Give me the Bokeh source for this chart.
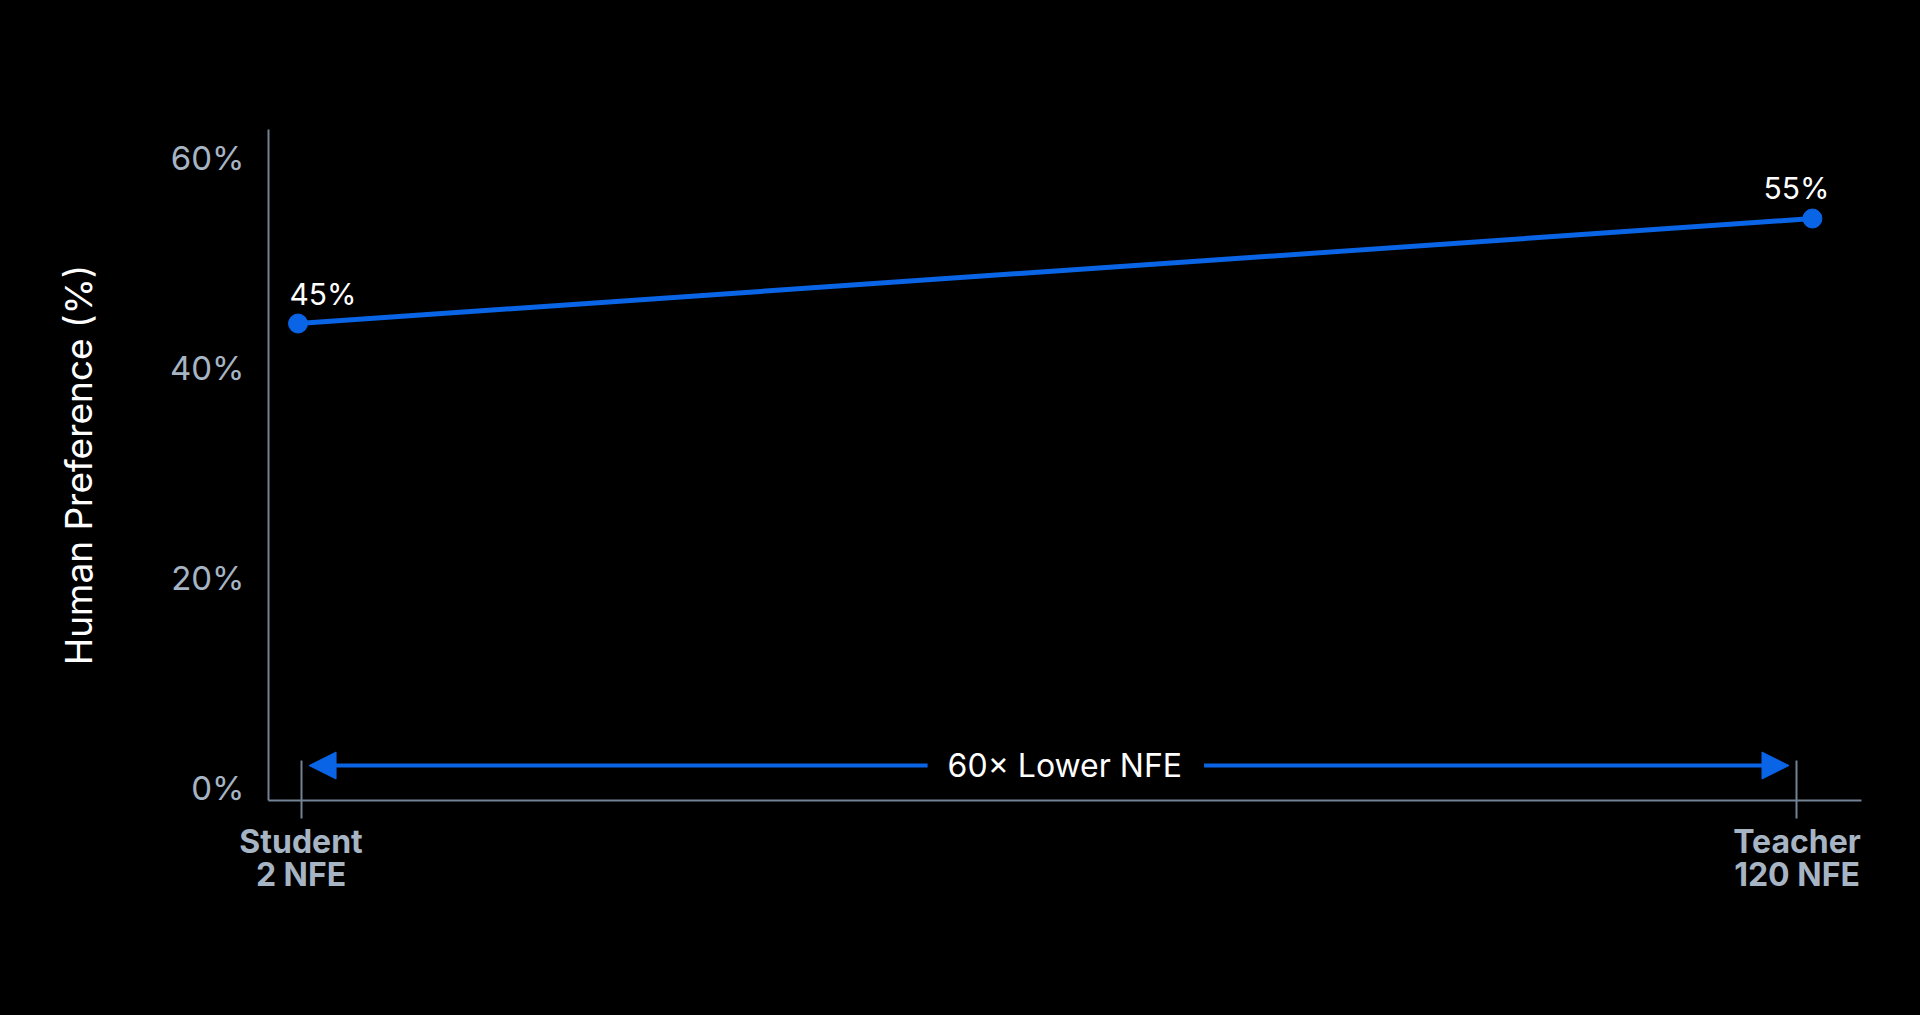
from bokeh.plotting import figure
from bokeh.models import (Range1d, FixedTicker, Arrow, NormalHead, Label, LinearAxis,
                          ColumnDataSource, GlobalInlineStyleSheet)
from bokeh.core.properties import value
from bokeh.embed import file_html
from bokeh.resources import INLINE

# ---- data ----
models = ["Student", "Teacher"]
nfe_labels = ["Student\n2 NFE", "Teacher\n120 NFE"]
preference = [45, 55]
value_labels = ["45%", "55%"]
y_ticks = [0, 20, 40, 60]
y_tick_labels = ["0%", "20%", "40%", "60%"]
arrow_text = "60\u00d7 Lower NFE"
y_title = "Human Preference (%)"

# ---- style ----
BLUE = "#0a64e6"
GRAY_TXT = "#a6b4c3"
AXIS_COL = "#738396"
FONT = "Inter"

Y0, Y1 = -0.43, 63.48
LABEL_LIFT = 0.8   # tick labels sit a few pixels above their gridline in the original

xs = list(range(len(models)))           # 0, 1
tick_pos = [xs[0] + 0.002, xs[1] - 0.0102]  # tick marks sit slightly inside the points

p = figure(width=1904, height=999, output_backend="svg", toolbar_location=None,
           x_range=Range1d(-0.0195, 1.0324), y_range=Range1d(Y0, Y1),
           y_axis_location=None,
           min_border_left=268, min_border_right=43, min_border_top=129,
           min_border_bottom=199)
p.extra_y_ranges = {"ylab": Range1d(Y0 - LABEL_LIFT, Y1 - LABEL_LIFT)}
p.background_fill_color = "black"
p.border_fill_color = "black"
p.outline_line_color = None
p.grid.visible = False
p.stylesheets = [GlobalInlineStyleSheet(css="html, body { background: #000000; }")]

# y axis
ya = LinearAxis(y_range_name="ylab")
ya.ticker = FixedTicker(ticks=y_ticks)
ya.major_label_overrides = {t: l for t, l in zip(y_ticks, y_tick_labels)}
ya.major_tick_in = 0
ya.major_tick_out = 0
ya.minor_tick_line_color = None
ya.major_tick_line_color = None
ya.axis_line_color = AXIS_COL
ya.axis_line_width = 2
ya.major_label_text_font = FONT
ya.major_label_text_font_size = "33px"
ya.major_label_text_color = GRAY_TXT
ya.major_label_standoff = 24
ya.axis_label = y_title
ya.axis_label_text_font = FONT
ya.axis_label_text_font_size = "37px"
ya.axis_label_text_font_style = "normal"
ya.axis_label_text_color = "white"
ya.axis_label_standoff = 66
p.add_layout(ya, "left")

# x axis
xa = p.xaxis[0]
xa.ticker = FixedTicker(ticks=tick_pos)
xa.major_label_overrides = {t: l for t, l in zip(tick_pos, nfe_labels)}
xa.minor_tick_line_color = None
xa.major_tick_in = 40
xa.major_tick_out = 18
xa.major_tick_line_color = AXIS_COL
xa.major_tick_line_width = 2
xa.axis_line_color = AXIS_COL
xa.axis_line_width = 2
xa.major_label_text_font = FONT
xa.major_label_text_font_size = "32px"
xa.major_label_text_font_style = "bold"
xa.major_label_text_color = GRAY_TXT
xa.major_label_standoff = 3
xa.major_label_text_line_height = 0.85

# data line and points
src = ColumnDataSource(dict(x=xs, y=preference, lab=value_labels))
p.line("x", "y", source=src, line_color=BLUE, line_width=5)
p.scatter("x", "y", source=src, size=19, fill_color=BLUE, line_color=BLUE)

# value labels
src_a = ColumnDataSource(dict(x=xs[:1], y=preference[:1], lab=value_labels[:1]))
src_b = ColumnDataSource(dict(x=xs[1:], y=preference[1:], lab=value_labels[1:]))
p.text("x", "y", text="lab", source=src_a, x_offset=25, y_offset=-30,
       text_align="center", text_baseline="alphabetic", text_color="white",
       text_font=value(FONT), text_font_size="30px")
p.text("x", "y", text="lab", source=src_b, x_offset=-16, y_offset=-31,
       text_align="center", text_baseline="alphabetic", text_color="white",
       text_font=value(FONT), text_font_size="30px")

# double arrow between the ticks
px_per_unit = 1514.5
arrow_y = 2.9
gap = 8 / px_per_unit
head = dict(size=27, fill_color=BLUE, line_color=BLUE)
p.add_layout(Arrow(x_start=tick_pos[0] + gap, y_start=arrow_y,
                   x_end=tick_pos[1] - gap, y_end=arrow_y,
                   start=NormalHead(**head), end=NormalHead(**head),
                   line_color=BLUE, line_width=4))
p.add_layout(Label(x=0.507, y=arrow_y, text=arrow_text, text_align="center",
                   text_baseline="middle", text_color="white",
                   text_font=FONT, text_font_size="32px",
                   background_fill_color="black",
                   padding=dict(left=20, right=22, top=2, bottom=2)))

open("out.html", "w").write(file_html(p, INLINE))
